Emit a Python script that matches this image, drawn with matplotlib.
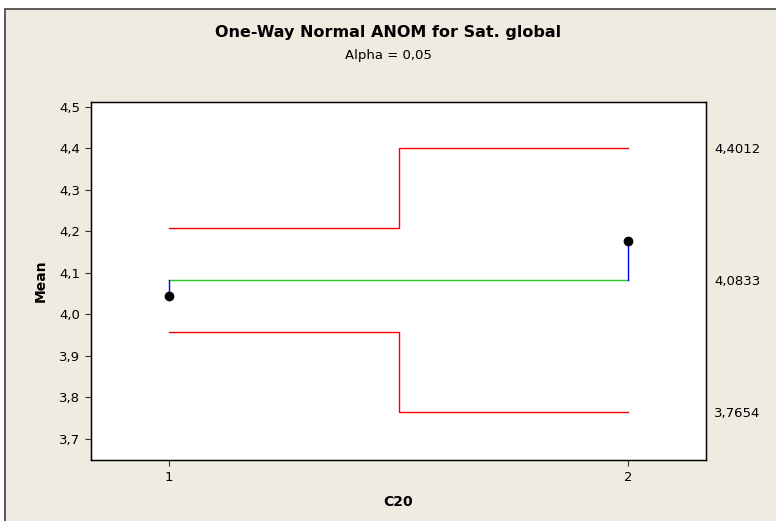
import matplotlib.pyplot as plt
from matplotlib.patches import Rectangle
from matplotlib.ticker import FuncFormatter

# ANOM data for Sat. global by level of C20
levels = [1, 2]
means = [4.045, 4.177]
center = 4.0833
udl = [4.2083, 4.4012]
ldl = [3.9583, 3.7654]
right_labels = ['4,4012', '4,0833', '3,7654']
right_values = [4.4012, 4.0833, 3.7654]

bg = '#EFEBE1'
comma = FuncFormatter(lambda v, p: ('%.1f' % v).replace('.', ','))

fig = plt.figure(figsize=(7.76, 5.21), dpi=100)
fig.patch.set_facecolor('white')

# beige panel with dark frame
fig.patches.append(Rectangle((5 / 776, -0.05), 1.1, (521 - 9) / 521 + 0.05,
                             transform=fig.transFigure, facecolor=bg,
                             edgecolor='#404040', linewidth=1.2, zorder=-1))

ax = fig.add_axes([91 / 776, 61 / 521, 615 / 776, 358 / 521])
ax.set_facecolor('white')

# decision limits as steps between the two levels
mid = (levels[0] + levels[1]) / 2
ux = [levels[0], mid, mid, levels[1]]
ax.plot(ux, [udl[0], udl[0], udl[1], udl[1]], color='red', lw=1)
ax.plot(ux, [ldl[0], ldl[0], ldl[1], ldl[1]], color='red', lw=1)
ax.plot([levels[0], levels[1]], [center, center], color='#22CC22', lw=1)

# vertical lines from the centre line to each mean
for x, m in zip(levels, means):
    ax.plot([x, x], [center, m], color='blue', lw=1)
ax.plot(levels, means, 'o', color='black', ms=6, zorder=5)

ax.set_xlim(0.83, 2.17)
ax.set_ylim(3.649, 4.512)
ax.set_xticks(levels)
ax.set_yticks([3.7, 3.8, 3.9, 4.0, 4.1, 4.2, 4.3, 4.4, 4.5])
ax.yaxis.set_major_formatter(comma)
ax.tick_params(direction='out', length=4, labelsize=9.5, color='#333333', pad=4)
for s in ax.spines.values():
    s.set_color('black')
    s.set_linewidth(1)

ax.set_xlabel('C20', fontsize=10, fontweight='bold', labelpad=8)
ax.set_ylabel('Mean', fontsize=10, fontweight='bold', labelpad=8)

# limit values on the right side
ax2 = ax.twinx()
ax2.set_ylim(ax.get_ylim())
ax2.set_yticks(right_values)
ax2.set_yticklabels(right_labels)
ax2.tick_params(length=0, labelsize=9.5, pad=6)

fig.text(0.5, 1 - 33 / 521, 'One-Way Normal ANOM for Sat. global',
         ha='center', va='center', fontsize=11.5, fontweight='bold')
fig.text(0.5, 1 - 55 / 521, 'Alpha = 0,05', ha='center', va='center', fontsize=9.5)

fig.savefig('out.png', dpi=100)
